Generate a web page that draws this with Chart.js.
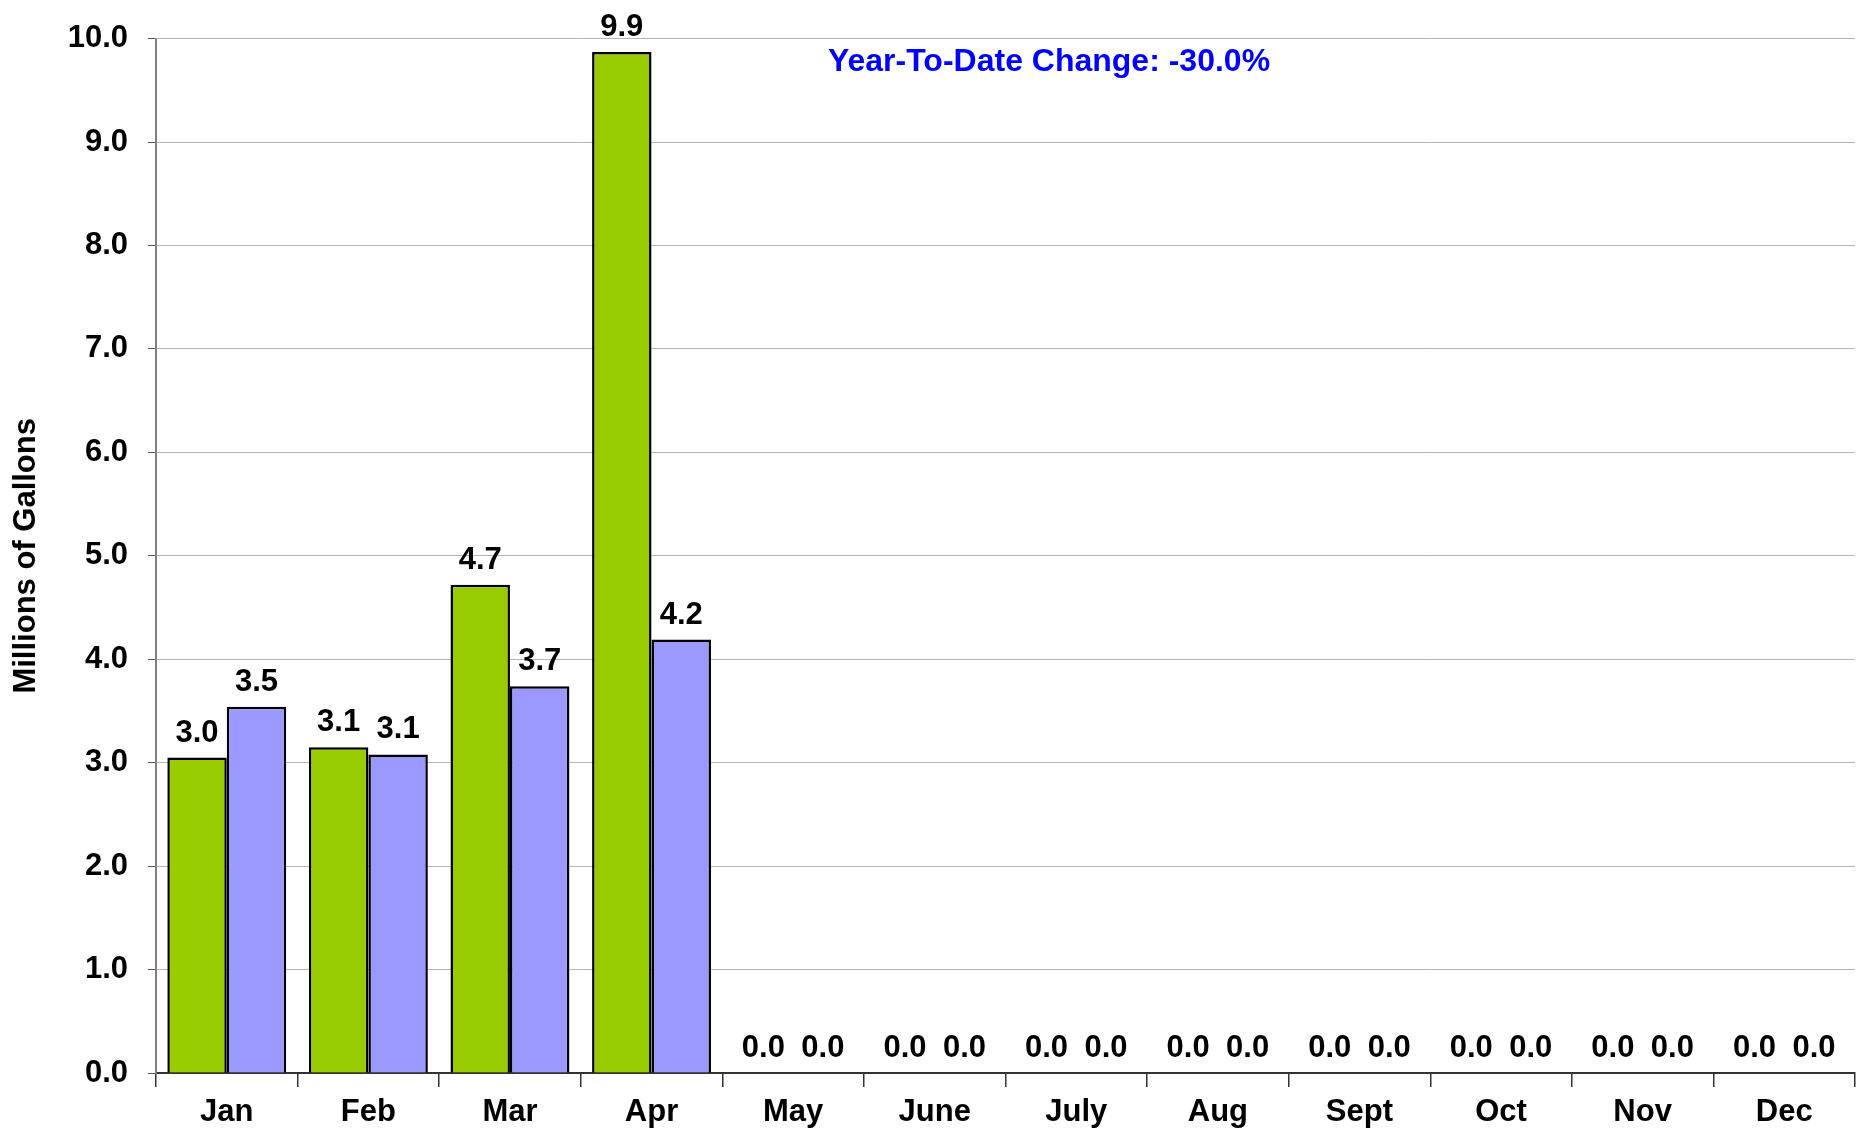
<!DOCTYPE html>
<html lang="en">
<head>
    <meta charset="UTF-8">
    <title>Millions of Gallons</title>
    <script src="https://cdn.jsdelivr.net/npm/chart.js"></script>
    <style>
        html, body { margin: 0; padding: 0; background: #fff; }
        #wrap { width: 1865px; height: 1130px; }
    </style>
</head>
<body>
    <div id="wrap"><canvas id="myChart"></canvas></div>
    <script>
        // data
        const months = ['Jan', 'Feb', 'Mar', 'Apr', 'May', 'June', 'July', 'Aug', 'Sept', 'Oct', 'Nov', 'Dec'];
        const prevYear = [3.05, 3.15, 4.72, 9.87, 0, 0, 0, 0, 0, 0, 0, 0];
        const thisYear = [3.54, 3.08, 3.74, 4.19, 0, 0, 0, 0, 0, 0, 0, 0];
        const yTicks = [0, 1, 2, 3, 4, 5, 6, 7, 8, 9, 10];
        const ytdText = 'Year-To-Date Change: -30.0%';

        const FONT = '"Liberation Sans", Arial, sans-serif';

        // value labels above bars + YTD note
        const labelPlugin = {
            id: 'barLabels',
            afterDatasetsDraw(chart) {
                const ctx = chart.ctx;
                ctx.save();
                ctx.font = 'bold 31px ' + FONT;
                ctx.fillStyle = '#000';
                ctx.textAlign = 'center';
                ctx.textBaseline = 'bottom';
                chart.data.datasets.forEach((ds, i) => {
                    chart.getDatasetMeta(i).data.forEach((bar, j) => {
                        ctx.fillText(ds.data[j].toFixed(1), bar.x, bar.y - 9);
                    });
                });
                ctx.font = 'bold 32px ' + FONT;
                ctx.fillStyle = '#0000ff';
                ctx.textBaseline = 'middle';
                ctx.fillText(ytdText, 1049, 62);
                ctx.restore();
            }
        };

        const zeroless = c => (c.raw === 0 ? 0 : 2.5);

        new Chart(document.getElementById('myChart'), {
            type: 'bar',
            data: {
                labels: months,
                datasets: [{
                    label: 'Previous',
                    data: prevYear,
                    backgroundColor: '#99cc00',
                    borderColor: '#000',
                    borderWidth: zeroless,
                    borderSkipped: 'bottom',
                    categoryPercentage: 0.84,
                    barPercentage: 1.0
                }, {
                    label: 'Current',
                    data: thisYear,
                    backgroundColor: '#9999ff',
                    borderColor: '#000',
                    borderWidth: zeroless,
                    borderSkipped: 'bottom',
                    categoryPercentage: 0.84,
                    barPercentage: 1.0
                }]
            },
            options: {
                responsive: true,
                maintainAspectRatio: false,
                animation: false,
                layout: { padding: { top: 34, right: 10, left: 0, bottom: 0 } },
                plugins: { legend: { display: false }, tooltip: { enabled: false } },
                scales: {
                    x: {
                        offset: true,
                        grid: { display: true, offset: true, drawOnChartArea: false, tickLength: 14, color: '#333', lineWidth: 1.5 },
                        border: { color: '#333', width: 2 },
                        ticks: { color: '#000', font: { family: FONT, size: 31, weight: 'bold' }, padding: 7, maxRotation: 0 },
                        afterFit(s) { s.height = 57; }
                    },
                    y: {
                        min: yTicks[0],
                        max: yTicks[yTicks.length - 1],
                        afterBuildTicks(s) { s.ticks = yTicks.map(v => ({ value: v })); },
                        grid: { color: '#b4b4b4', lineWidth: 1, borderDash: [1, 2], tickLength: 8, tickColor: '#555', tickBorderDash: [] },
                        border: { color: '#808080', width: 2 },
                        ticks: { color: '#000', font: { family: FONT, size: 31, weight: 'bold' }, padding: 20,
                            callback: v => Number(v).toFixed(1) },
                        title: { display: true, text: 'Millions of Gallons', color: '#000',
                            font: { family: FONT, size: 31, weight: 'bold' }, padding: { top: 8, bottom: 0 } },
                        afterFit(s) { s.width = 156; }
                    }
                }
            },
            plugins: [labelPlugin]
        });
    </script>
</body>
</html>
